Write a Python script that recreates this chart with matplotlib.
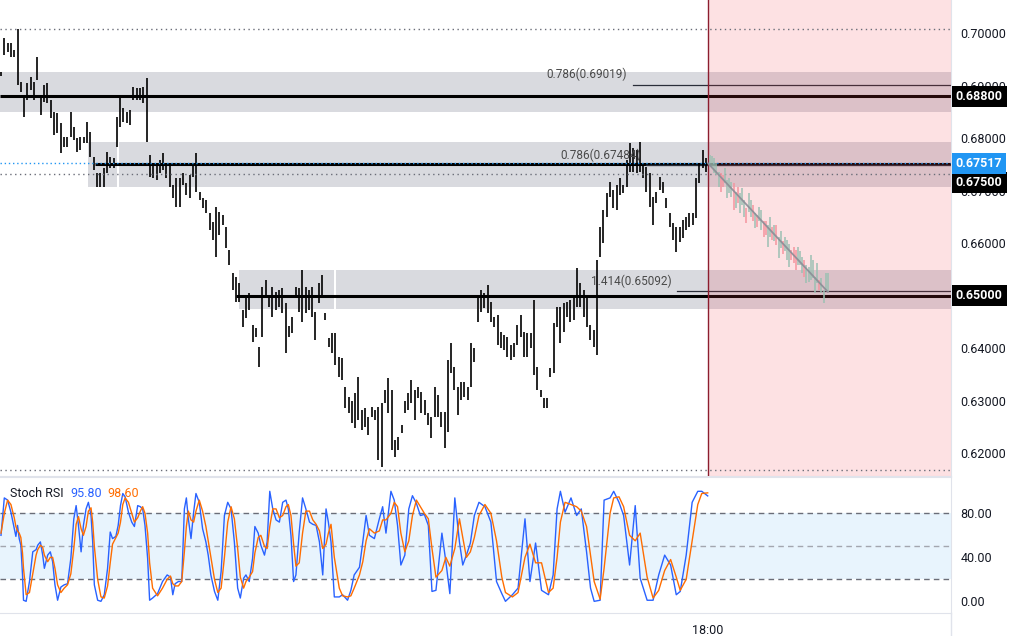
import numpy as np
import matplotlib
matplotlib.use("Agg")
import matplotlib.pyplot as plt
from matplotlib.patches import Rectangle
from matplotlib.lines import Line2D

plt.rcParams['font.family'] = ['Roboto', 'DejaVu Sans']

# OHLC bar highs / lows (one entry per bar, left to right)
highs = [
    0.6926, 0.6990, 0.6981, 0.6981, 0.6968, 0.7008, 0.6907, 0.6878, 0.6905, 0.6916,
    0.6907, 0.6954, 0.6878, 0.6901, 0.6905, 0.6872, 0.6849, 0.6848, 0.6829, 0.6802,
    0.6802, 0.6849, 0.6821, 0.6800, 0.6802, 0.6802, 0.6831, 0.6811, 0.6764, 0.6733,
    0.6733, 0.6743, 0.6774, 0.6764, 0.6762, 0.6840, 0.6876, 0.6857, 0.6849, 0.6853,
    0.6897, 0.6895, 0.6895, 0.6897, 0.6914, 0.6768, 0.6749, 0.6749, 0.6758, 0.6772,
    0.6753, 0.6749, 0.6711, 0.6724, 0.6724, 0.6733, 0.6714, 0.6730, 0.6753, 0.6772,
    0.6697, 0.6686, 0.6682, 0.6657, 0.6640, 0.6669, 0.6659, 0.6653, 0.6630, 0.6587,
    0.6543, 0.6535, 0.6524, 0.6472, 0.6495, 0.6505, 0.6444, 0.6438, 0.6402, 0.6516,
    0.6530, 0.6501, 0.6516, 0.6507, 0.6510, 0.6514, 0.6486, 0.6441, 0.6459, 0.6516,
    0.6514, 0.6549, 0.6516, 0.6510, 0.6516, 0.6469, 0.6524, 0.6539, 0.6467, 0.6419,
    0.6429, 0.6429, 0.6383, 0.6381, 0.6326, 0.6306, 0.6300, 0.6314, 0.6345, 0.6282,
    0.6286, 0.6269, 0.6288, 0.6282, 0.6288, 0.6295, 0.6320, 0.6343, 0.6320, 0.6225,
    0.6231, 0.6254, 0.6300, 0.6314, 0.6339, 0.6320, 0.6326, 0.6316, 0.6301, 0.6276,
    0.6269, 0.6326, 0.6311, 0.6278, 0.6278, 0.6377, 0.6410, 0.6364, 0.6326, 0.6335,
    0.6335, 0.6326, 0.6410, 0.6400, 0.6495, 0.6510, 0.6505, 0.6520, 0.6488, 0.6459,
    0.6463, 0.6431, 0.6425, 0.6421, 0.6406, 0.6410, 0.6444, 0.6463, 0.6431, 0.6429,
    0.6429, 0.6491, 0.6364, 0.6320, 0.6305, 0.6305, 0.6362, 0.6448, 0.6478, 0.6478,
    0.6486, 0.6488, 0.6491, 0.6497, 0.6552, 0.6524, 0.6510, 0.6495, 0.6444, 0.6434,
    0.6568, 0.6631, 0.6663, 0.6695, 0.6716, 0.6701, 0.6711, 0.6724, 0.6711, 0.6758,
    0.6791, 0.6781, 0.6778, 0.6793, 0.6749, 0.6745, 0.6733, 0.6688, 0.6697, 0.6726,
    0.6716, 0.6686, 0.6657, 0.6638, 0.6631, 0.6631, 0.6644, 0.6650, 0.6657, 0.6657,
    0.6724, 0.6752, 0.6777, 0.6762,
]
lows = [
    0.6918, 0.6958, 0.6964, 0.6954, 0.6954, 0.6901, 0.6888, 0.6840, 0.6872, 0.6892,
    0.6872, 0.6911, 0.6844, 0.6868, 0.6867, 0.6838, 0.6806, 0.6810, 0.6771, 0.6783,
    0.6783, 0.6802, 0.6796, 0.6773, 0.6777, 0.6791, 0.6791, 0.6764, 0.6739, 0.6707,
    0.6707, 0.6707, 0.6733, 0.6743, 0.6743, 0.6783, 0.6821, 0.6831, 0.6829, 0.6825,
    0.6872, 0.6872, 0.6872, 0.6867, 0.6792, 0.6726, 0.6724, 0.6720, 0.6733, 0.6739,
    0.6724, 0.6707, 0.6686, 0.6669, 0.6669, 0.6711, 0.6692, 0.6686, 0.6726, 0.6697,
    0.6682, 0.6667, 0.6657, 0.6625, 0.6606, 0.6574, 0.6615, 0.6634, 0.6590, 0.6558,
    0.6511, 0.6488, 0.6488, 0.6440, 0.6457, 0.6472, 0.6412, 0.6421, 0.6364, 0.6421,
    0.6501, 0.6478, 0.6459, 0.6472, 0.6478, 0.6467, 0.6391, 0.6421, 0.6429, 0.6497,
    0.6469, 0.6450, 0.6467, 0.6472, 0.6459, 0.6415, 0.6486, 0.6501, 0.6453, 0.6402,
    0.6391, 0.6368, 0.6345, 0.6339, 0.6286, 0.6276, 0.6257, 0.6248, 0.6263, 0.6244,
    0.6250, 0.6234, 0.6269, 0.6263, 0.6187, 0.6174, 0.6295, 0.6276, 0.6206, 0.6192,
    0.6206, 0.6238, 0.6276, 0.6282, 0.6295, 0.6263, 0.6305, 0.6276, 0.6272, 0.6253,
    0.6229, 0.6269, 0.6269, 0.6250, 0.6210, 0.6240, 0.6352, 0.6320, 0.6272, 0.6301,
    0.6307, 0.6301, 0.6326, 0.6373, 0.6450, 0.6469, 0.6476, 0.6467, 0.6450, 0.6440,
    0.6406, 0.6400, 0.6396, 0.6383, 0.6377, 0.6383, 0.6406, 0.6421, 0.6383, 0.6383,
    0.6400, 0.6349, 0.6320, 0.6307, 0.6286, 0.6286, 0.6345, 0.6352, 0.6440, 0.6410,
    0.6431, 0.6459, 0.6450, 0.6453, 0.6478, 0.6478, 0.6459, 0.6440, 0.6415, 0.6402,
    0.6387, 0.6574, 0.6600, 0.6650, 0.6688, 0.6667, 0.6663, 0.6692, 0.6695, 0.6707,
    0.6735, 0.6735, 0.6733, 0.6735, 0.6724, 0.6697, 0.6669, 0.6634, 0.6676, 0.6701,
    0.6695, 0.6667, 0.6631, 0.6606, 0.6583, 0.6602, 0.6610, 0.6625, 0.6631, 0.6634,
    0.6648, 0.6714, 0.6743, 0.6735,
]

# projected bars (bars pattern) after the cursor line
proj_high = [
    0.6768, 0.6765, 0.6761, 0.6752, 0.6736, 0.6733, 0.6730, 0.6742, 0.6720, 0.6723,
    0.6717, 0.6714, 0.6698, 0.6707, 0.6695, 0.6704, 0.6682, 0.6666, 0.6695, 0.6682,
    0.6672, 0.6657, 0.6653, 0.6669, 0.6663, 0.6641, 0.6641, 0.6634, 0.6650, 0.6631,
    0.6634, 0.6634, 0.6612, 0.6622, 0.6603, 0.6612, 0.6606, 0.6599, 0.6587, 0.6593,
    0.6587, 0.6593, 0.6584, 0.6574, 0.6568, 0.6558, 0.6555, 0.6577, 0.6568, 0.6536,
    0.6561, 0.6530, 0.6533, 0.6511, 0.6542, 0.6542,
]
proj_low = [
    0.6745, 0.6745, 0.6733, 0.6730, 0.6707, 0.6698, 0.6707, 0.6714, 0.6685, 0.6695,
    0.6688, 0.6663, 0.6666, 0.6676, 0.6657, 0.6672, 0.6650, 0.6638, 0.6660, 0.6650,
    0.6641, 0.6628, 0.6631, 0.6641, 0.6625, 0.6612, 0.6615, 0.6593, 0.6612, 0.6606,
    0.6603, 0.6596, 0.6571, 0.6590, 0.6580, 0.6584, 0.6568, 0.6555, 0.6568, 0.6561,
    0.6549, 0.6558, 0.6558, 0.6542, 0.6536, 0.6523, 0.6526, 0.6530, 0.6533, 0.6504,
    0.6523, 0.6511, 0.6504, 0.6485, 0.6511, 0.6507,
]
proj_up = [1, 1, 1, 1, 1, 0, 0, 1, 1, 1, 1, 0, 1, 0, 1, 1, 1, 0, 1, 1,
           0, 1, 0, 1, 1, 0, 0, 1, 1, 0, 1, 0, 1, 1, 0, 1, 1, 1, 0, 0,
           0, 1, 1, 1, 0, 1, 1, 1, 1, 1, 1, 0, 1, 1, 1, 1]
proj_span = [214.2, 249.8]          # bar positions of first / last projected bar
proj_path_t = [213.6, 249.8]
proj_path_p = [0.67517, 0.6507]

# horizontal zones (bar start, bar end, low, high)
zone_start = [-0.3, 26.3, 35.5, 71.9, 101.1]
zone_end = [287.0, 35.1, 287.0, 100.7, 287.0]
zone_low = [0.68495, 0.67067, 0.67067, 0.64743, 0.64743]
zone_high = [0.69257, 0.67924, 0.67924, 0.65486, 0.65486]

level_price = [0.688, 0.675, 0.650]
level_start = [-0.3, 28.4, 71.0]

fib_price = [0.69019, 0.67484, 0.65092]
fib_ratio = ['0.786', '0.786', '1.414']
fib_start = [190.9, 194.9, 204.2]

dotted_levels = [0.7007, 0.6731, 0.6168]
last_price = 0.67517
cursor_t = 213.6

# 0.65 sits under the black 0.65000 tag, so it is not listed
price_ticks = [0.62, 0.63, 0.64, 0.66, 0.67, 0.68, 0.69, 0.70]

# Stoch RSI (%K blue, %D orange)
stoch_t = [0.0, 1.0, 2.0, 3.0, 4.0, 4.5, 5.0, 5.5, 6.0, 6.5,
           6.8, 7.6, 8.6, 9.6, 10.6, 11.1, 11.9, 12.6, 13.1, 14.1,
           14.9, 15.6, 16.3, 17.1, 18.1, 19.1, 20.1, 21.1, 22.0, 22.7,
           23.4, 24.2, 24.9, 25.7, 26.4, 27.2, 27.7, 28.2, 29.2, 30.2,
           31.2, 32.2, 33.0, 33.7, 34.7, 35.4, 36.1, 36.8, 37.5, 38.5,
           39.5, 40.3, 41.3, 42.1, 42.8, 43.5, 44.3, 44.9, 45.8, 47.3,
           48.8, 50.2, 51.2, 51.9, 52.6, 53.6, 54.6, 55.4, 56.0, 56.6,
           57.4, 58.2, 58.9, 59.9, 60.9, 61.9, 62.6, 63.4, 64.5, 65.5,
           66.5, 67.5, 68.5, 69.5, 70.5, 71.5, 72.3, 73.3, 74.0, 75.0,
           76.0, 76.7, 77.7, 78.5, 79.6, 80.4, 81.2, 82.1, 83.1, 84.1,
           85.1, 86.1, 86.8, 87.6, 88.4, 89.1, 90.1, 91.1, 92.1, 93.2,
           94.2, 95.2, 96.2, 97.2, 98.2, 98.9, 99.7, 100.7, 102.2, 103.2,
           104.7, 105.7, 106.7, 108.3, 109.3, 110.3, 111.3, 112.8, 114.3, 115.3,
           116.3, 117.8, 118.8, 119.8, 120.8, 122.0, 123.2, 124.3, 125.5, 126.7,
           127.9, 129.1, 130.2, 131.4, 133.2, 134.4, 135.6, 137.1, 138.5, 139.5,
           140.6, 141.8, 143.0, 144.4, 146.2, 148.0, 149.7, 151.3, 152.4, 154.5,
           156.2, 158.3, 159.8, 161.5, 163.3, 165.4, 166.8, 168.0, 169.0, 170.4,
           172.2, 173.9, 175.3, 176.9, 178.1, 179.2, 181.0, 182.2, 184.0, 185.1,
           186.7, 188.1, 189.9, 191.6, 193.1, 195.2, 197.0, 198.7, 200.5, 202.3,
           204.0, 205.2, 207.0, 208.8, 210.5, 211.7, 213.5]
stoch_k = [60, 94, 92, 81, 66, 59, 69, 57, 51, 24,
           1, 0, 18, 45, 47, 51, 54, 42, 30, 42,
           45, 36, 15, 1, 13, 15, 16, 39, 75, 87,
           69, 45, 69, 84, 90, 78, 54, 15, 1, 0,
           6, 30, 63, 57, 59, 69, 87, 98, 95, 81,
           72, 68, 87, 86, 84, 69, 39, 1, 3, 7,
           18, 24, 22, 6, 16, 18, 18, 84, 94, 75,
           57, 81, 98, 90, 66, 54, 42, 24, 9, 1,
           27, 78, 90, 84, 54, 12, 3, 21, 24, 18,
           39, 68, 62, 51, 42, 54, 100, 84, 74, 72,
           90, 92, 84, 60, 18, 24, 63, 94, 84, 72,
           70, 69, 54, 24, 84, 72, 54, 4, 4, 6,
           1, 10, 24, 31, 54, 78, 60, 57, 75, 86,
           62, 100, 92, 69, 33, 42, 84, 96, 89, 78,
           79, 69, 9, 10, 62, 36, 7, 94, 54, 33,
           42, 53, 78, 90, 86, 72, 18, 7, 0, 6,
           12, 75, 18, 53, 10, 6, 24, 84, 100, 81,
           94, 78, 84, 45, 12, 0, 1, 92, 94, 100,
           90, 78, 33, 87, 21, 1, 1, 24, 42, 33,
           6, 9, 42, 90, 100, 100, 95.8]
stoch_d = [62, 80, 92, 88, 76, 68, 64, 62, 58, 44,
           30, 6, 8, 25, 42, 47, 51, 49, 42, 36,
           40, 40, 30, 15, 8, 12, 15, 25, 48, 70,
           77, 66, 60, 68, 82, 85, 72, 50, 20, 4,
           3, 14, 35, 52, 58, 62, 72, 88, 94, 90,
           80, 72, 76, 82, 86, 80, 62, 35, 12, 5,
           12, 20, 23, 16, 14, 14, 18, 45, 68, 82,
           74, 72, 82, 92, 82, 68, 55, 40, 20, 8,
           12, 40, 72, 86, 75, 48, 22, 12, 18, 22,
           27, 44, 58, 60, 50, 48, 68, 84, 84, 76,
           78, 86, 88, 78, 52, 32, 35, 62, 82, 82,
           74, 70, 64, 48, 52, 62, 70, 40, 12, 5,
           4, 5, 12, 24, 36, 55, 66, 62, 64, 74,
           74, 80, 90, 86, 62, 45, 55, 78, 92, 86,
           80, 75, 48, 22, 28, 40, 32, 48, 75, 58,
           40, 45, 58, 78, 88, 80, 55, 22, 8, 4,
           8, 40, 52, 35, 35, 8, 12, 40, 72, 90,
           88, 86, 82, 68, 42, 18, 2, 30, 80, 94,
           95, 86, 60, 55, 62, 22, 3, 10, 28, 38,
           22, 10, 20, 55, 88, 98, 98.6]
stoch_bands = [20, 50, 80]
stoch_ticks = [0, 40, 80]

GRID = '#e0e3eb'
TXT = '#131722'
W, H = 1012, 636
fig = plt.figure(figsize=(W / 100, H / 100), dpi=100)
fig.patch.set_facecolor('white')

xlim = (-0.3, 287.0)

# ---------------- price pane ----------------
ax = fig.add_axes([0, 1 - 476 / H, 951 / W, 476 / H])
ax.set_xlim(*xlim)
ax.set_ylim(0.61562, 0.70629)
for s in ['top', 'left']:
    ax.spines[s].set_visible(False)
ax.spines['right'].set_color(GRID)
ax.spines['bottom'].set_color(GRID)
ax.set_xticks([])
ax.yaxis.tick_right()
ax.set_yticks(price_ticks)
ax.set_yticklabels(['%.5f' % p for p in price_ticks])
ax.tick_params(axis='y', length=0, pad=7, labelsize=9, labelcolor=TXT)

for t0, t1, lo, hi in zip(zone_start, zone_end, zone_low, zone_high):
    ax.add_patch(Rectangle((t0, lo), t1 - t0, hi - lo, fc='#d9dadf', ec='none', zorder=1))

for p, t0 in zip(level_price, level_start):
    ax.plot([t0, xlim[1]], [p, p], color='black', lw=2.2, zorder=2, solid_capstyle='butt')

for p, r, t0 in zip(fib_price, fib_ratio, fib_start):
    ax.plot([t0, xlim[1]], [p, p], color='#2a2e39', lw=0.9, zorder=2)
    ax.annotate('%s(%.5f)' % (r, p), xy=(t0, p), xytext=(-4, 7), textcoords='offset points',
                ha='right', va='center', fontsize=8.5, color='#4a4a4a', zorder=6)

idx = np.arange(len(highs))
ax.vlines(idx, lows, highs, color='black', lw=1.2, zorder=3)

# highlighted future region
ax.axvspan(cursor_t, xlim[1], color='#f23645', alpha=0.15, lw=0, zorder=4)
ax.axvline(cursor_t, color='#8c1d2e', lw=1.0, zorder=5)

for p in dotted_levels:
    ax.axhline(p, color='#6a6d78', lw=1.0, ls=(0, (1, 2.5)), zorder=5)
ax.axhline(last_price, color='#2196f3', lw=1.0, ls=(0, (1, 2)), zorder=5)

px = np.linspace(proj_span[0], proj_span[1], len(proj_high))
pcol = ['#9cc0b3' if u else '#f4959f' for u in proj_up]
ax.vlines(px, proj_low, proj_high, colors=pcol, lw=1.1, zorder=6)
ax.plot(proj_path_t, proj_path_p, color='#8b8d96', lw=1.3, alpha=0.9, zorder=7)


def price_tag(value, fc, dy=0):
    ax.annotate('%.5f' % value, xy=(1.0, value), xycoords=('axes fraction', 'data'),
                xytext=(3.5, dy), textcoords='offset points', ha='left', va='center',
                fontsize=9, fontweight='bold', color='white', annotation_clip=False,
                bbox=dict(boxstyle='square,pad=0.32', fc=fc, ec='none'), zorder=10)


price_tag(0.688, 'black')
price_tag(0.650, 'black')
price_tag(0.675, 'black', dy=-13)
price_tag(last_price, '#2196f3')

# ---------------- Stoch RSI pane ----------------
ax2 = fig.add_axes([0, 1 - 613 / H, 951 / W, 136 / H])
ax2.set_xlim(*xlim)
ax2.set_ylim(-10.6, 113.0)
ax2.spines['left'].set_visible(False)
for s in ['top', 'right', 'bottom']:
    ax2.spines[s].set_color(GRID)
ax2.yaxis.tick_right()
ax2.set_yticks(stoch_ticks)
ax2.set_yticklabels(['%.2f' % v for v in stoch_ticks])
ax2.set_xticks([cursor_t])
ax2.set_xticklabels(['18:00'])
ax2.tick_params(axis='both', length=0, labelsize=9, labelcolor=TXT)
ax2.tick_params(axis='y', pad=7)
ax2.tick_params(axis='x', pad=8)

ax2.axhspan(stoch_bands[0], stoch_bands[2], color='#2196f3', alpha=0.1, lw=0, zorder=1)
ax2.axhline(stoch_bands[0], color='#6a6d78', lw=1.0, ls=(0, (4, 3)), zorder=2)
ax2.axhline(stoch_bands[2], color='#6a6d78', lw=1.0, ls=(0, (4, 3)), zorder=2)
ax2.axhline(stoch_bands[1], color='#a3a6af', lw=1.0, ls=(0, (4, 3)), zorder=2)
ax2.plot(stoch_t, stoch_k, color='#2962ff', lw=1.0, zorder=3)
ax2.plot(stoch_t, stoch_d, color='#ff6d00', lw=1.0, zorder=4)

ax2.text(10 / 951, 0.88, 'Stoch RSI', transform=ax2.transAxes, fontsize=9,
         color=TXT, va='center', ha='left')
ax2.text(70 / 951, 0.88, '%.2f' % stoch_k[-1], transform=ax2.transAxes, fontsize=9,
         color='#2962ff', va='center', ha='left')
ax2.text(107 / 951, 0.88, '%.2f' % stoch_d[-1], transform=ax2.transAxes, fontsize=9,
         color='#ff6d00', va='center', ha='left')

# right scale border continues through the time axis strip
fig.add_artist(Line2D([951 / W, 951 / W], [0, 23 / H], color=GRID, lw=1.0))

fig.savefig('out.png', dpi=100, facecolor='white')
